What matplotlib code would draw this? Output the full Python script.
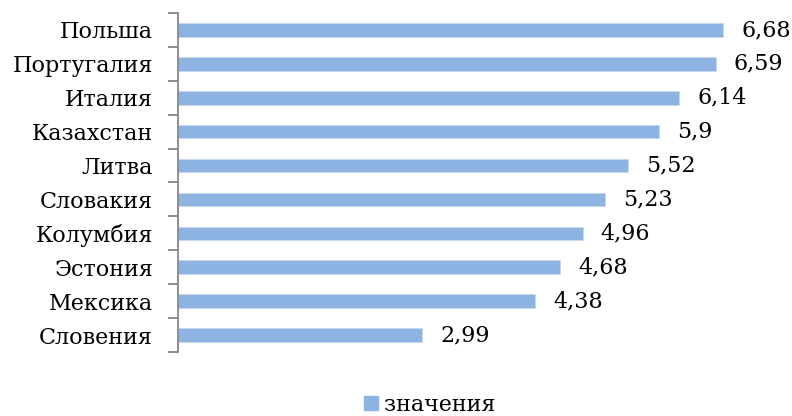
import matplotlib
matplotlib.use("Agg")
import matplotlib.pyplot as plt
from matplotlib.patches import Patch

categories = ["Польша", "Португалия", "Италия", "Казахстан", "Литва",
              "Словакия", "Колумбия", "Эстония", "Мексика", "Словения"]
values = [6.68, 6.59, 6.14, 5.9, 5.52, 5.23, 4.96, 4.68, 4.38, 2.99]
value_labels = ["6,68", "6,59", "6,14", "5,9", "5,52", "5,23", "4,96", "4,68", "4,38", "2,99"]
series_name = "значения"

plt.rcParams['font.family'] = ['DejaVu Serif']
W, H = 792, 416
fig = plt.figure(figsize=(W/100, H/100), dpi=100)
left = 178 / W
right_px = 178 + 7.0 * 81.6
ax = fig.add_axes([left, (H - 352) / H, (right_px - 178) / W, (352 - 13) / H])

color = "#8DB3E2"
n = len(categories)
ypos = list(range(n))
ax.barh(ypos, values, height=0.4, color=color, edgecolor="#C6D9F1", linewidth=0.6)
ax.set_ylim(n - 0.5, -0.5)
ax.set_xlim(0, 7.0)

ax.set_yticks([i - 0.5 for i in range(n + 1)])
ax.set_yticklabels([])
ax.set_yticks(ypos, minor=True)
ax.set_yticklabels(categories, minor=True, fontsize=16)
ax.tick_params(axis='y', which='minor', length=0, pad=18)
ax.tick_params(axis='y', which='major', length=7, width=1.3, color="#868686")
ax.set_xticks([])
for s in ["top", "right", "bottom"]:
    ax.spines[s].set_visible(False)
ax.spines["left"].set_color("#868686")
ax.spines["left"].set_linewidth(1.3)

for y, v, lab in zip(ypos, values, value_labels):
    ax.annotate(lab, (v, y), xytext=(13, 0), textcoords="offset points",
                va="center", ha="left", fontsize=16)

leg = fig.legend(handles=[Patch(facecolor=color, edgecolor=color)], labels=[series_name],
                 loc="center", bbox_to_anchor=(430 / W, 1 - 405 / H), frameon=False,
                 fontsize=16, handlelength=0.6, handleheight=0.6, handletextpad=0.3)

fig.savefig("out.png", dpi=100)
